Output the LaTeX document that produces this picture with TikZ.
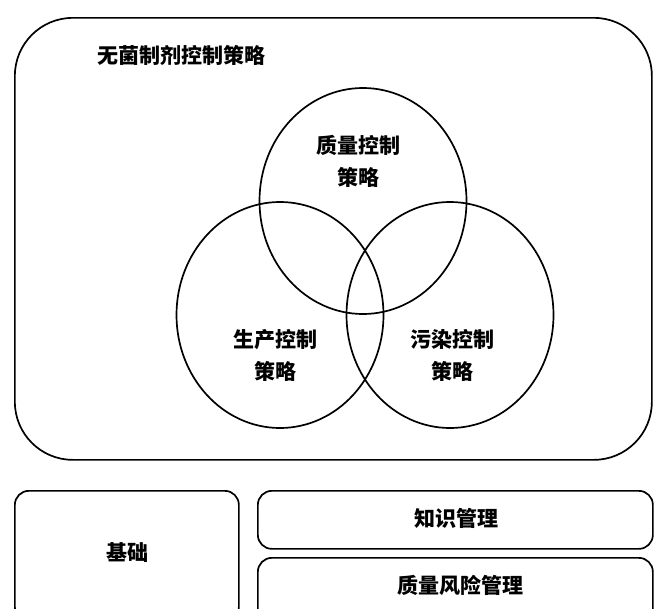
\documentclass[tikz,border=0pt]{standalone}
\usepackage{fontspec}
\usetikzlibrary{shapes.geometric}
\newfontfamily\cjk{Noto Sans CJK SC}
\begin{document}
\begin{tikzpicture}[x=1pt,y=-1pt,
  line width=1.7pt,
  lbl/.style={font=\cjk\bfseries\fontsize{21}{32}\selectfont, align=center, inner sep=0pt},
  venn/.style={draw, ellipse, minimum width=207pt, minimum height=226pt, inner sep=0pt},
  bottombox/.style={draw, rounded corners=14pt, inner sep=0pt}
]
\useasboundingbox (0,0) rectangle (656,608);
\fill[white] (0,0) rectangle (656,608);
\clip (0,0) rectangle (656,608);
% outer frame
\node[draw, rounded corners=58pt, minimum width=637pt, minimum height=442pt, inner sep=0pt, anchor=north west] (outer) at (14,17) {};
\node[lbl, anchor=west] (title) at (97,55) {无菌制剂控制策略};
% venn circles
\node[venn] (qc) at (363,201) {};
\node[venn] (pc) at (280,315) {};
\node[venn] (cc) at (450,315) {};
\node[lbl] (qct) at (358,161) {质量控制\\策略};
\node[lbl] (pct) at (275,355) {生产控制\\策略};
\node[lbl] (cct) at (452,355) {污染控制\\策略};
% bottom boxes
\node[bottombox, minimum width=224pt, minimum height=130pt, anchor=north west] (base) at (14,490) {};
\node[lbl] (baset) at (127,553) {基础};
\node[bottombox, minimum width=395pt, minimum height=58pt, anchor=north west] (km) at (257,490) {};
\node[lbl] (kmt) at (456,518) {知识管理};
\node[bottombox, minimum width=395pt, minimum height=70pt, anchor=north west] (qrm) at (257,557) {};
\node[lbl] (qrmt) at (460,585) {质量风险管理};
\end{tikzpicture}
\end{document}
